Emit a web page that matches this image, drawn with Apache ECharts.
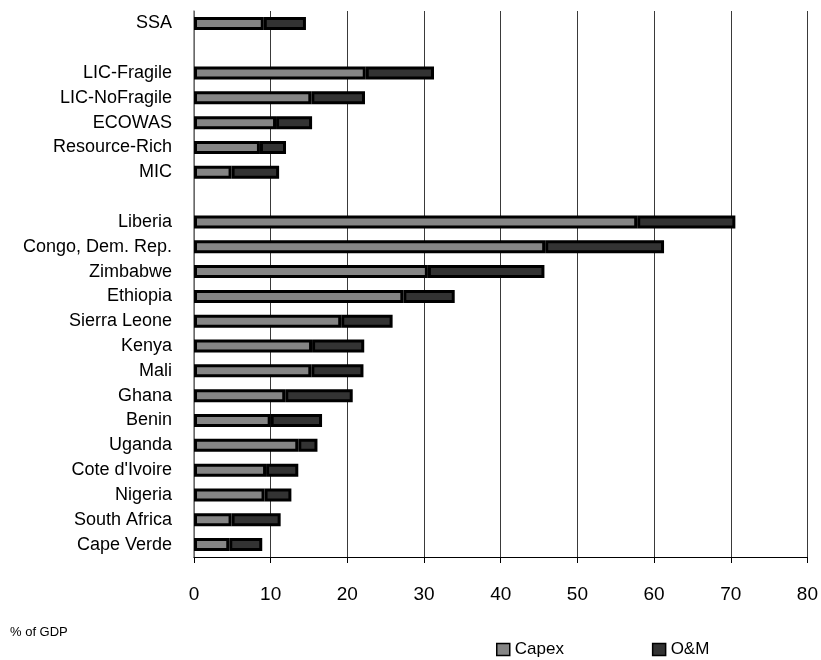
<!DOCTYPE html>
<html>
<head>
<meta charset="utf-8">
<script src="https://cdn.jsdelivr.net/npm/echarts@6/dist/echarts.min.js"></script>
<style>
  html, body { margin: 0; padding: 0; background: #fff; }
  #chart { width: 821px; height: 660px; }
</style>
</head>
<body>
<div id="chart"></div>
<script>
// Infrastructure spending needs by region and country, % of GDP
const categories = [
  'SSA', ' ',
  'LIC-Fragile', 'LIC-NoFragile', 'ECOWAS', 'Resource-Rich', 'MIC', '  ',
  'Liberia', 'Congo, Dem. Rep.', 'Zimbabwe', 'Ethiopia', 'Sierra Leone', 'Kenya',
  'Mali', 'Ghana', 'Benin', 'Uganda', "Cote d'Ivoire", 'Nigeria', 'South Africa', 'Cape Verde'
];
const capex = [
  9.1, null,
  22.4, 15.3, 10.7, 8.6, 4.9, null,
  57.8, 45.8, 30.5, 27.3, 19.2, 15.4,
  15.3, 11.9, 10.0, 13.6, 9.4, 9.2, 4.9, 4.6
];
const om = [
  5.5, null,
  8.9, 7.0, 4.7, 3.4, 6.2, null,
  12.8, 15.5, 15.2, 6.7, 6.7, 6.8,
  6.8, 8.8, 6.7, 2.5, 4.2, 3.5, 6.4, 4.3
];
const xTicks = [0, 10, 20, 30, 40, 50, 60, 70, 80];

const FONT = "'Liberation Sans Narrow', 'Arial Narrow', 'Liberation Sans', sans-serif";

const chart = echarts.init(document.getElementById('chart'), null, { renderer: 'canvas' });

chart.setOption({
  animation: false,
  backgroundColor: '#ffffff',
  textStyle: { fontFamily: FONT, color: '#000' },
  grid: { left: 194, right: 13, top: 11, bottom: 103, containLabel: false },
  xAxis: {
    type: 'value',
    min: xTicks[0],
    max: xTicks[xTicks.length - 1],
    interval: 10,
    axisLine: { show: true, lineStyle: { color: '#000', width: 1 } },
    axisTick: { show: true, inside: false, length: 6, lineStyle: { color: '#000' } },
    axisLabel: { fontSize: 19, fontFamily: FONT, color: '#000', margin: 28 },
    splitLine: { show: true, lineStyle: { color: '#3a3a3a', width: 1 } }
  },
  yAxis: {
    type: 'category',
    data: categories,
    inverse: true,
    axisLine: { show: true, lineStyle: { color: '#7a7a7a', width: 1.5 } },
    axisTick: { show: false },
    axisLabel: { fontSize: 18, fontFamily: FONT, color: '#000', margin: 22, interval: 0 },
    splitLine: { show: false }
  },
  legend: {
    left: 496,
    top: 641,
    padding: 0,
    itemWidth: 13,
    itemHeight: 12,
    itemGap: 88,
    itemStyle: { borderColor: '#000', borderWidth: 1.5 },
    icon: 'rect',
    textStyle: { fontSize: 17, fontFamily: FONT, color: '#000' },
    data: ['Capex', 'O&M']
  },
  graphic: [{
    type: 'text',
    left: 10,
    top: 626,
    style: { text: '% of GDP', font: '13px ' + FONT, fill: '#000' }
  }],
  series: [
    {
      name: 'Capex',
      type: 'bar',
      stack: 'total',
      barWidth: 13,
      data: capex,
      itemStyle: { color: '#858585', borderColor: '#000', borderWidth: 3 }
    },
    {
      name: 'O&M',
      type: 'bar',
      stack: 'total',
      barWidth: 13,
      data: om,
      itemStyle: { color: '#333333', borderColor: '#000', borderWidth: 3 }
    }
  ]
});
</script>
</body>
</html>
